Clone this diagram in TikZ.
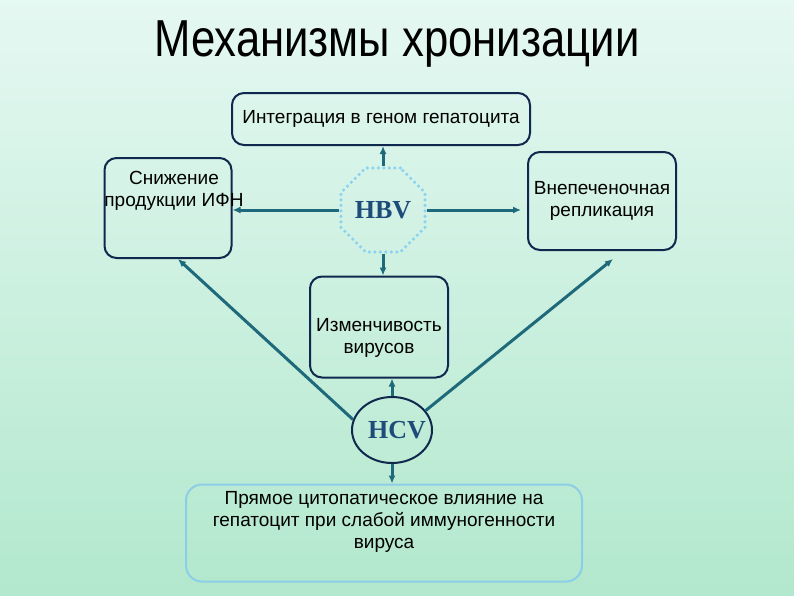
\documentclass[tikz,border=0pt]{standalone}
\usepackage{fontspec}
\setmainfont{Liberation Sans}
\newfontfamily\titlefont[FakeStretch=0.84]{Liberation Sans}
\newfontfamily\virusfont{Liberation Serif}
\usetikzlibrary{arrows.meta,shapes.geometric}

\definecolor{bgtop}{RGB}{229,248,242}
\definecolor{bgbottom}{RGB}{178,232,205}
\definecolor{boxnavy}{RGB}{16,40,78}
\definecolor{linkteal}{RGB}{30,105,122}
\definecolor{virusblue}{RGB}{30,76,122}
\definecolor{dotblue}{RGB}{138,210,240}
\definecolor{palecyan}{RGB}{140,205,232}

\tikzset{
  box/.style={draw=boxnavy, line width=2pt, rounded corners=12pt, inner sep=0pt},
  boxtext/.style={font=\fontsize{19}{22}\selectfont, align=center},
  link/.style={draw=linkteal, line width=3pt, -{Latex[length=8pt,width=7pt]}},
  virus/.style={font=\virusfont\bfseries\fontsize{26}{30}\selectfont, text=virusblue},
}

\begin{document}
\begin{tikzpicture}[x=1pt,y=-1pt]
  \shade[top color=bgtop,bottom color=bgbottom] (0,0) rectangle (794,595);
  \node[font=\titlefont\fontsize{52}{56}\selectfont, anchor=base] (title) at (397,56) {Механизмы хронизации};

  % boxes round the viruses
  \node[box, boxtext, minimum width=298, minimum height=52] (integ) at (381,119) {Интеграция в геном гепатоцита};
  \node[box, minimum width=127, minimum height=100,
    label={[boxtext,xshift=6pt,yshift=17pt]center:Снижение\\продукции ИФН}] (ifn) at (168,208) {};
  \node[box, boxtext, minimum width=148, minimum height=98] (repl) at (602,201) {Внепеченочная\\репликация};
  \node[box, minimum width=138, minimum height=101,
    label={[boxtext,yshift=-11pt]center:Изменчивость\\вирусов}] (var) at (379,327) {};
  \node[box, draw=palecyan, rounded corners=16pt, minimum width=396, minimum height=97,
    label={[boxtext,yshift=11pt]center:Прямое цитопатическое влияние на\\гепатоцит при слабой иммуногенности\\вируса}] (cyto) at (384,533) {};

  % viruses
  \node[regular polygon, regular polygon sides=8, minimum size=91, inner sep=0pt,
    draw=dotblue, line width=3.5pt, line cap=round, dash pattern=on 0pt off 5.5pt, virus] (hbv) at (383,210) {HBV};
  \node[ellipse, draw=boxnavy, line width=2pt, minimum width=80, minimum height=66,
    label={[virus,xshift=5pt]center:HCV}] (hcv) at (392,430) {};

  % arrows
  \draw[link] (hbv.north) -- (hbv.north |- integ.south);
  \draw[link] (hbv.west) -- (hbv.west -| ifn.east);
  \draw[link] (hbv.east) -- ([xshift=-6pt]hbv.east -| repl.west);
  \draw[link] (hbv.south) -- (hbv.south |- var.north);
  \draw[link] (hcv.north) -- (hcv.north |- var.south);
  \draw[link] (hcv.south) -- (hcv.south |- cyto.north);
  \draw[link] (hcv.165) -- ([xshift=10pt]ifn.south);
  \draw[link] (hcv.30) -- ([xshift=11pt,yshift=-8pt]repl.south);
\end{tikzpicture}
\end{document}
